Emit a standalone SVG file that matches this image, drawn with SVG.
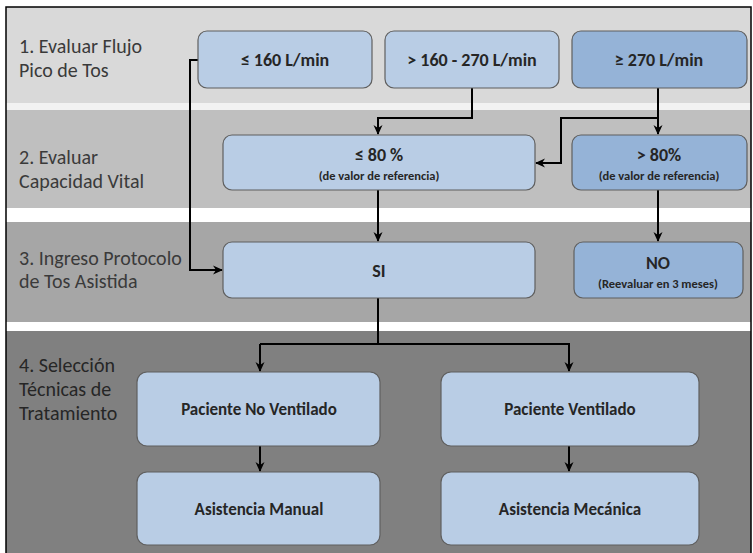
<svg xmlns="http://www.w3.org/2000/svg" width="753" height="553" viewBox="0 0 753 553">
<style>
.lbl{font-family:Carlito,Lato,"Liberation Sans",sans-serif;font-size:20px;fill:#3a3a3a}
.nt{font-family:Carlito,Lato,"Liberation Sans",sans-serif;font-weight:bold;fill:#262626;text-anchor:middle}
.big{font-size:18px}
.mid{font-size:17px}
.sub{font-size:12.5px}
.bx{stroke:#5f5f5f;stroke-width:1.2}
.l{fill:#b9cde5}
.d{fill:#95b3d7}
.c{fill:none;stroke:#000;stroke-width:2;marker-end:url(#ah)}
.cn{fill:none;stroke:#000;stroke-width:2}
</style>
<defs>
<marker id="ah" viewBox="0 0 10 10" refX="9" refY="5" markerWidth="10" markerHeight="10" markerUnits="userSpaceOnUse" orient="auto">
<path d="M0,0.5 L10,5 L0,9.5 L3,5 z" fill="#000"/>
</marker>
</defs>
<rect width="753" height="553" fill="#fff"/>
<g id="bands">
<rect x="6" y="7" width="745" height="96" fill="#d9d9d9"/>
<rect x="6" y="103" width="745" height="7" fill="#f2f2f2"/>
<rect x="6" y="110" width="745" height="98" fill="#bfbfbf"/>
<rect x="6" y="208" width="745" height="14" fill="#fff"/>
<rect x="6" y="222" width="745" height="100" fill="#a6a6a6"/>
<rect x="6" y="322" width="745" height="9" fill="#fff"/>
<rect x="6" y="331" width="745" height="222" fill="#808080"/>
<rect x="6" y="7" width="745" height="550" fill="none" stroke="#000" stroke-width="1.5"/>
</g>
<g id="labels">
<text class="lbl" x="19" y="53">1. Evaluar Flujo</text>
<text class="lbl" x="19" y="77">Pico de Tos</text>
<text class="lbl" x="19" y="164">2. Evaluar</text>
<text class="lbl" x="19" y="188">Capacidad Vital</text>
<text class="lbl" x="19" y="265">3. Ingreso Protocolo</text>
<text class="lbl" x="19" y="288">de Tos Asistida</text>
<text class="lbl" x="19" y="372" style="fill:#262626">4. Selección</text>
<text class="lbl" x="19" y="396" style="fill:#262626">Técnicas de</text>
<text class="lbl" x="19" y="420" style="fill:#262626">Tratamiento</text>
</g>
<g id="connectors">
<path class="c" d="M198,60 H190 V270 H222"/>
<path class="c" d="M472,88 V118 H378 V134"/>
<path class="c" d="M658,88 V134"/>
<path class="c" d="M658,118 H561 V163 H536"/>
<path class="c" d="M378,190 V241"/>
<path class="c" d="M658,190 V241"/>
<path class="cn" d="M378,298 V344"/>
<path class="c" d="M260,344 H569 V371"/>
<path class="c" d="M260,344 V371"/>
<path class="c" d="M260,446 V471"/>
<path class="c" d="M569,446 V471"/>
</g>
<g id="n1">
<rect class="bx l" x="198" y="31" width="174" height="57" rx="9"/>
<text class="nt big" x="285" y="66">≤ 160 L/min</text>
</g>
<g id="n2">
<rect class="bx l" x="385" y="31" width="174" height="57" rx="9"/>
<text class="nt big" x="472" y="66">&gt; 160 - 270 L/min</text>
</g>
<g id="n3">
<rect class="bx d" x="572" y="31" width="175" height="57" rx="9"/>
<text class="nt big" x="659" y="66">≥ 270 L/min</text>
</g>
<g id="n4">
<rect class="bx l" x="223" y="135" width="312" height="55" rx="9"/>
<text class="nt big" x="379" y="161">≤ 80 %</text>
<text class="nt sub" x="379" y="180">(de valor de referencia)</text>
</g>
<g id="n5">
<rect class="bx d" x="572" y="135" width="175" height="55" rx="9"/>
<text class="nt big" x="659" y="161">&gt; 80%</text>
<text class="nt sub" x="659" y="180">(de valor de referencia)</text>
</g>
<g id="n6">
<rect class="bx l" x="223" y="242" width="312" height="56" rx="9"/>
<text class="nt big" x="379" y="277">SI</text>
</g>
<g id="n7">
<rect class="bx d" x="574" y="242" width="169" height="56" rx="9"/>
<text class="nt big" x="658" y="269">NO</text>
<text class="nt sub" x="658" y="288">(Reevaluar en 3 meses)</text>
</g>
<g id="n8">
<rect class="bx l" x="137" y="372" width="243" height="74" rx="10"/>
<text class="nt mid" x="259" y="415">Paciente No Ventilado</text>
</g>
<g id="n9">
<rect class="bx l" x="441" y="372" width="258" height="74" rx="10"/>
<text class="nt mid" x="570" y="415">Paciente Ventilado</text>
</g>
<g id="n10">
<rect class="bx l" x="137" y="472" width="243" height="73" rx="10"/>
<text class="nt mid" x="259" y="515">Asistencia Manual</text>
</g>
<g id="n11">
<rect class="bx l" x="441" y="472" width="258" height="73" rx="10"/>
<text class="nt mid" x="570" y="515">Asistencia Mecánica</text>
</g>
</svg>
